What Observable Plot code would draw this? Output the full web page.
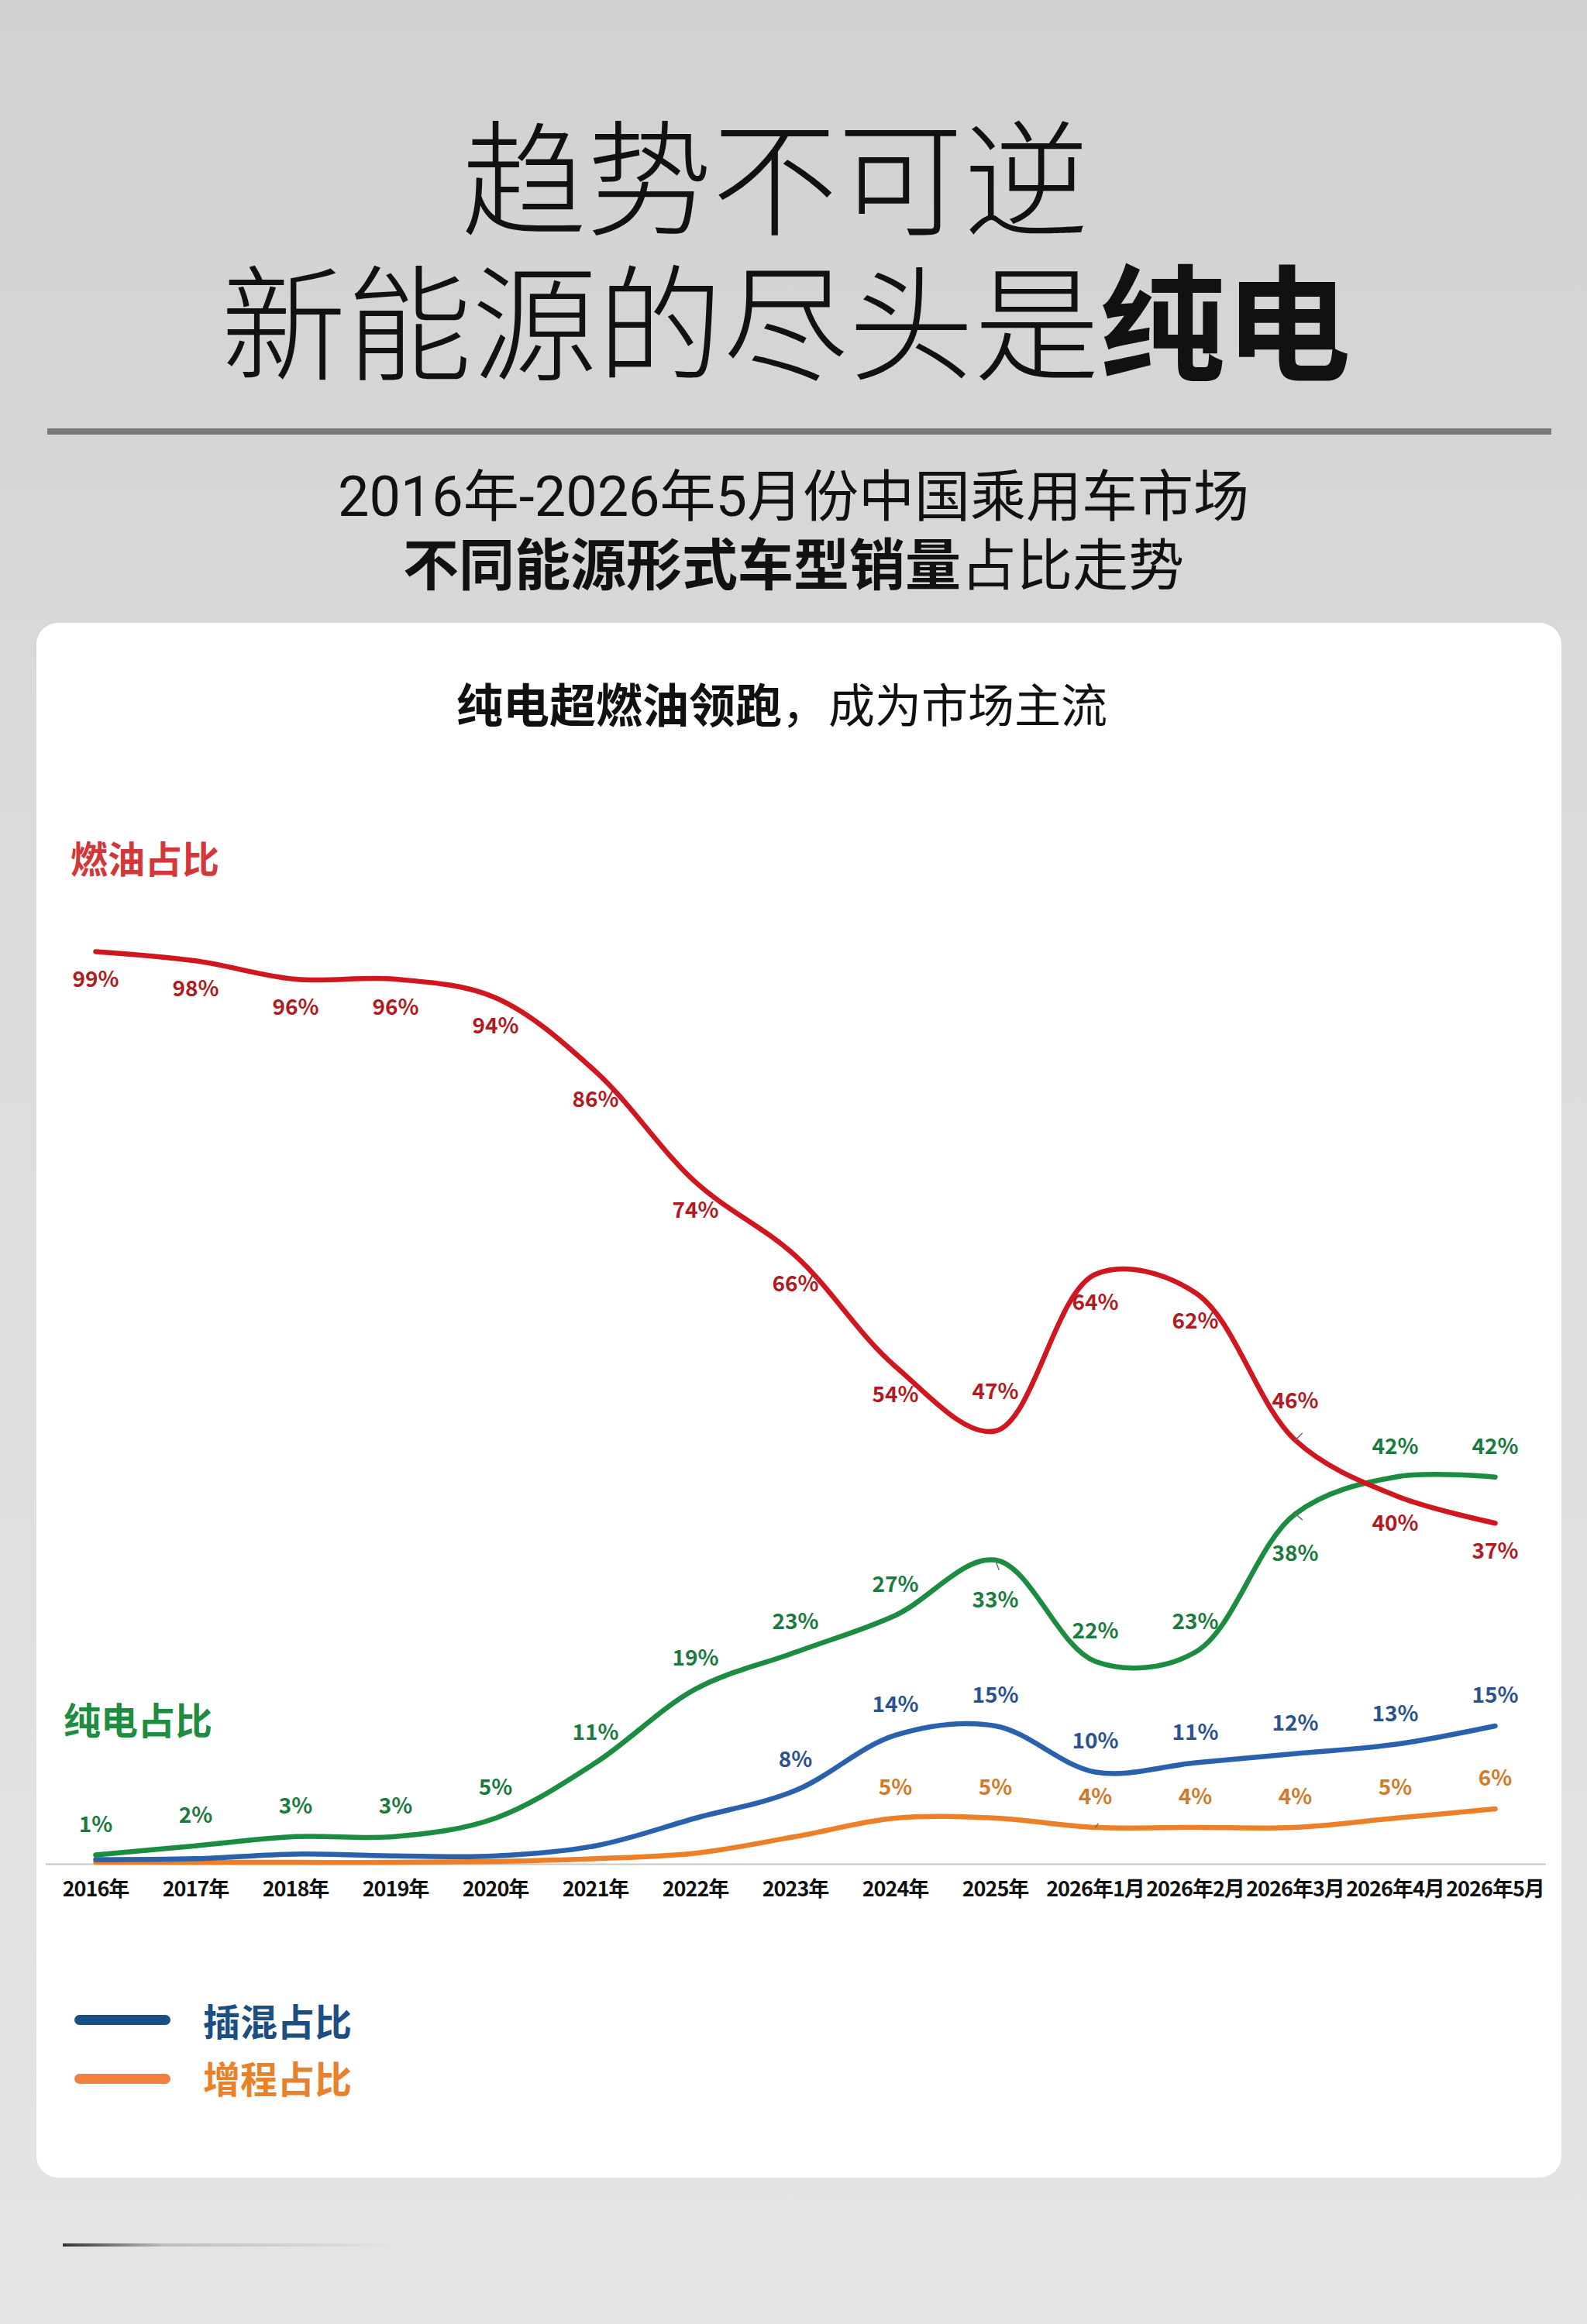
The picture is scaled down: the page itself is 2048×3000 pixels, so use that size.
<!DOCTYPE html>
<html>
<head>
<meta charset="utf-8">
<script src="https://cdn.jsdelivr.net/npm/d3@7"></script>
<script src="https://cdn.jsdelivr.net/npm/@observablehq/plot@0.6"></script>
<style>
  html, body { margin: 0; padding: 0; }
  body {
    width: 2048px; height: 3000px; position: relative; overflow: hidden;
    background: linear-gradient(#d0d1d3, #dcdddf 45%, #e3e4e6);
    font-family: "Noto Sans CJK SC", "Noto Sans", sans-serif; color: #111;
  }
  .abs { position: absolute; white-space: nowrap; line-height: 1; }
  .tight { font-family: Roboto, "Noto Sans CJK SC", sans-serif; }
  .center { left: 0; width: 2048px; text-align: center; }
  .abs span { display: inline-block; line-height: 1; }
  .b { font-weight: 700; }
  .light { font-weight: 300; }
  #rule { position: absolute; left: 61px; top: 553px; width: 1941px; height: 8px; background: #7a7a7a; }
  #card { position: absolute; left: 47px; top: 804px; width: 1968px; height: 2007px; background: #fff; border-radius: 28px; }
  #chart { position: absolute; left: 0; top: 1100px; }
  .xaxis text { letter-spacing: -1px; }
  .key { position: absolute; height: 13px; border-radius: 7px; left: 96px; width: 124px; }
  .streak { position: absolute; left: 81px; top: 2896px; width: 430px; height: 4px;
    background: linear-gradient(90deg, #333, rgba(150,150,150,0.5) 30%, rgba(210,210,210,0)); }
</style>
</head>
<body>
<div class="abs center tight" style="top:156px;height:160px;font-size:162px;transform:translateX(-24px)"><span class="light">趋势不可逆</span></div>
<div class="abs center tight" style="top:343px;height:160px;font-size:162px;transform:translateX(-10px)"><span class="light">新能源的尽头是</span><span class="b">纯电</span></div>
<div id="rule"></div>
<div class="abs center tight" style="top:606px;font-size:72px;"><span>2016年-2026年5月份中国乘用车市场</span></div>
<div class="abs center tight" style="top:695px;font-size:72px;"><span class="b">不同能源形式车型销量</span><span>占比走势</span></div>
<div id="card"></div>
<div class="abs center" style="top:877px;font-size:60px;transform:translateX(-15px)"><span class="b">纯电超燃油领跑</span><span>，成为市场主流</span></div>
<div class="abs" style="left:91px;top:1082px;font-size:48px;font-weight:700;color:#d2383a">燃油占比</div>
<div class="abs" style="left:82px;top:2194px;font-size:48px;font-weight:700;color:#1f8c3f">纯电占比</div>
<div id="chart"></div>
<div class="key" style="top:2601px;background:#1b4e82"></div>
<div class="abs" style="left:262px;top:2583px;font-size:48px;font-weight:700;color:#1b4e82">插混占比</div>
<div class="key" style="top:2677px;background:#f28140"></div>
<div class="abs" style="left:262px;top:2657px;font-size:48px;font-weight:700;color:#e9802a">增程占比</div>
<div class="streak"></div>

<script>
// Periods on the x axis
const categories = [
  "2016年", "2017年", "2018年", "2019年", "2020年", "2021年", "2022年", "2023年",
  "2024年", "2025年", "2026年1月", "2026年2月", "2026年3月", "2026年4月", "2026年5月"
];

// Share of passenger-car sales by powertrain, in percent
const fuelShare = [99, 98, 96, 96, 94, 86, 74, 66, 54, 47, 64, 62, 46, 40, 37];
const bevShare  = [1, 2, 3, 3, 5, 11, 19, 23, 27, 33, 22, 23, 38, 42, 42];
const phevShare = [0.5, 0.6, 1.1, 0.9, 0.9, 2, 5, 8, 14, 15, 10, 11, 12, 13, 15];
const erevShare = [0.2, 0.2, 0.2, 0.2, 0.3, 0.6, 1.2, 3, 5, 5, 4, 4, 4, 5, 6];

// Series names and the first period whose value is printed
const seriesNames = ["增程", "插混", "纯电", "燃油"];
const seriesValues = [erevShare, phevShare, bevShare, fuelShare];
const labelFrom = {"增程": "2024年", "插混": "2023年", "纯电": "2016年", "燃油": "2016年"};

// Line and label colours
const lineColor = {"燃油": "#d0161f", "纯电": "#1b8c40", "插混": "#2a61ad", "增程": "#ec7f27"};
const textColor = {"燃油": "#b01b1f", "纯电": "#1b7a3e", "插混": "#2a5190", "增程": "#d27a2a"};

// Periods where the fuel / BEV labels swap sides to stay clear of the other line
const flipped = new Set(["2025年", "2026年3月"]);

// Thin leader lines tying a few labels to their curve
const leaders = [
  {series: "燃油", at: "2026年3月", rotate: 45, length: 36},
  {series: "纯电", at: "2026年3月", rotate: 130, length: 33},
  {series: "纯电", at: "2025年", rotate: 160, length: 38},
  {series: "增程", at: "2026年1月", rotate: 38, length: 17}
];

const rows = seriesNames.flatMap((name, s) =>
  categories.map((period, i) => ({
    series: name,
    period,
    value: seriesValues[s][i],
    labeled: i >= categories.indexOf(labelFrom[name]),
    flip: flipped.has(period) && (name === "燃油" || name === "纯电")
  }))
);

const valueOf = (name, period) => rows.find(d => d.series === name && d.period === period).value;
const leaderRows = leaders.map(d => ({...d, value: valueOf(d.series, d.at)}));

const labelRows = rows.filter(d => d.labeled);
const fmt = d => `${d.value}%`;
const textBase = {x: "period", y: "value", text: fmt, fill: d => textColor[d.series],
  fontSize: 28, fontWeight: "bold"};

const chart = Plot.plot({
  width: 2048,
  height: 1380,
  marginTop: 116,
  marginBottom: 74,
  marginLeft: 122,
  marginRight: 119,
  style: {fontFamily: "'Noto Sans CJK SC', 'Noto Sans', sans-serif", background: "transparent", overflow: "visible"},
  x: {type: "point", domain: categories, padding: 0},
  y: {domain: [0, 100], axis: null},
  marks: [
    Plot.ruleY([0], {stroke: "#c8c8c8", strokeWidth: 2, insetLeft: -63, insetRight: -66}),
    Plot.axisX({tickSize: 0, tickPadding: 22, fontSize: 27, fontWeight: "bold", fill: "#111", label: null, className: "xaxis"}),
    ...seriesNames.map(name =>
      Plot.line(rows.filter(d => d.series === name), {
        x: "period", y: "value", curve: "catmull-rom",
        stroke: lineColor[name], strokeWidth: 6.5, strokeLinecap: "round", strokeLinejoin: "round"
      })
    ),
    Plot.vector(leaderRows, {
      x: "at", y: "value", rotate: "rotate", length: "length", anchor: "start",
      stroke: "#6b6b6b", strokeWidth: 1.5,
      shape: {draw(context, l) { context.moveTo(0, 0); context.lineTo(0, -l); }}
    }),
    // fuel labels sit under the curve, the others above it
    Plot.text(labelRows.filter(d => d.series === "燃油" && !d.flip), {...textBase, dy: 37}),
    Plot.text(labelRows.filter(d => d.series === "燃油" && d.flip), {...textBase, dy: -50}),
    Plot.text(labelRows.filter(d => d.series !== "燃油" && !d.flip), {...textBase, dy: -39}),
    Plot.text(labelRows.filter(d => d.series === "纯电" && d.flip), {...textBase, dy: 52})
  ]
});

document.getElementById("chart").appendChild(chart);
</script>
</body>
</html>
